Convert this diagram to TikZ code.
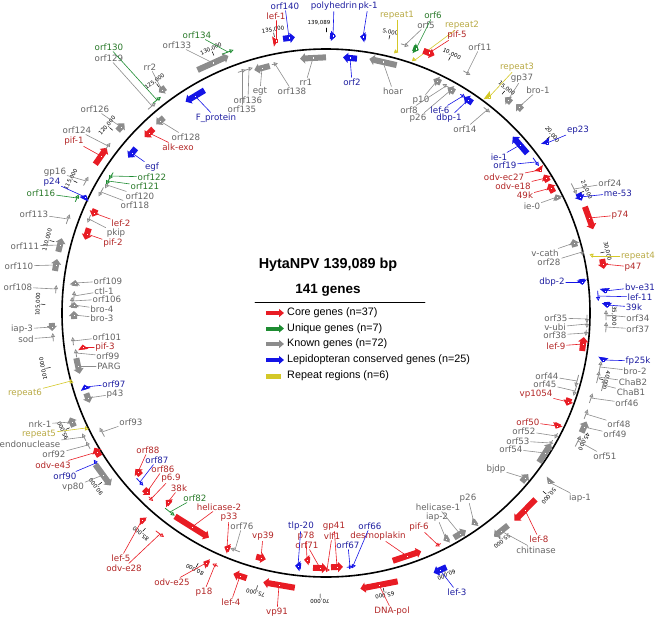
\documentclass[tikz,border=0pt]{standalone}
\usepackage{fontspec}
\setmainfont{DejaVu Sans}
\newfontfamily\legfont{Liberation Sans}
\usetikzlibrary{calc,arrows.meta}
\definecolor{coreC}{RGB}{232,28,36}
\definecolor{coreT}{RGB}{178,38,38}
\definecolor{uniqC}{RGB}{30,140,50}
\definecolor{uniqT}{RGB}{40,120,40}
\definecolor{knownC}{RGB}{140,140,140}
\definecolor{knownT}{RGB}{100,100,100}
\definecolor{lepiC}{RGB}{20,20,230}
\definecolor{lepiT}{RGB}{30,30,160}
\definecolor{repC}{RGB}{212,200,40}
\definecolor{repT}{RGB}{185,170,70}
\tikzset{
  gcw/.style={line width=6pt,line cap=butt,-{Triangle[width=10pt,length=5pt]}},
  gccw/.style={line width=6pt,line cap=butt,{Triangle[width=10pt,length=5pt]}-},
  tcw/.style={line width=0.8pt,-{Triangle[open,width=4pt,length=4pt]}},
  tccw/.style={line width=0.8pt,{Triangle[open,width=4pt,length=4pt]}-},
  gcwm/.style={fill=white,draw,line width=0.4pt,inner sep=0pt,minimum size=2.6pt},
  gccwm/.style={gcwm},
  tcwm/.style={inner sep=0pt},
  tccwm/.style={inner sep=0pt},
  gcore/.style={color=coreC}, gcorel/.style={text=coreT},
  guniq/.style={color=uniqC}, guniql/.style={text=uniqT},
  gknown/.style={color=knownC}, gknownl/.style={text=knownT},
  glepi/.style={color=lepiC}, glepil/.style={text=lepiT},
  grep/.style={color=repC}, grepl/.style={text=repT},
  glab/.style={inner sep=1pt,font=\fontsize{8.7}{10}\selectfont},
  leader/.style={line width=0.6pt},
  ticklab/.style={inner sep=0.5pt,font=\fontsize{5.5}{6}\selectfont},
  legt/.style={font=\legfont\bfseries\fontsize{14.4}{16}\selectfont},
  legl/.style={anchor=west,inner sep=0pt,font=\legfont\fontsize{10.8}{12}\selectfont}
}
\begin{document}
\begin{tikzpicture}[x=1pt,y=-1pt,line join=round,line cap=round,>=stealth]
\useasboundingbox (0,0) rectangle (658,618);
\def\R{264} % genome circle
\coordinate (c) at (326,313);
\draw[line width=1.6pt] (c) circle[radius=\R];
% ticks every 5 kb
\foreach \k in {5,10,...,135}{
  \pgfmathsetmacro\a{\k*2.588271}
  \draw[line width=0.5pt] ($(c)+(\a-90:281)$) -- ($(c)+(\a-90:285)$);
  \node[ticklab,anchor=south,rotate=-\a] at ($(c)+(\a-90:285)$) {\k,000};
}
\draw[line width=0.5pt] ($(c)+(-90:281)$) -- ($(c)+(-90:285)$);
\node[ticklab] at (319,23) {139,089};
% id, class, shape, gene x, y, half length, label x, y, text
\def\gene#1#2#3#4#5#6#7#8#9{
  \coordinate (#1) at (#4,#5);
  \draw[#2,#3] ($(#1)!#6pt!-90:(c)$) -- ($(#1)!#6pt!90:(c)$);
  \node[glab,#2l] (#1l) at (#7,#8) {#9};
  \draw[leader,#2] (#1l) -- (#1);
  \node[#2,#3m] (#1m) at (#1) {};
}
\gene{polh}{glepi}{gcw}{333}{36}{3}{334}{6}{polyhedrin}
\gene{orf140}{glepi}{gcw}{289}{38}{6}{285}{6}{orf140}
\gene{lef1}{gcore}{gcw}{276}{41}{2}{276}{16}{lef-1}
\gene{pk1}{glepi}{gccw}{363}{37}{3}{368}{6}{pk-1}
\gene{orf2}{glepi}{gccw}{350}{58}{7}{352}{82}{orf2}
\gene{hoar}{gknown}{gccw}{383}{62}{14}{393}{91}{hoar}
\gene{rep1}{grep}{tcw}{397}{52}{1.5}{397}{15}{repeat1}
\gene{orf5}{gknown}{tcw}{405}{45}{4}{426}{25}{orf5}
\gene{orf6}{guniq}{gcw}{416}{49}{3}{433}{15}{orf6}
\gene{rep2}{grep}{tcw}{415}{60}{1.5}{462}{25}{repeat2}
\gene{pif5}{gcore}{gcw}{429}{53}{6}{457}{35}{pif-5}
\gene{orf11}{gknown}{tcw}{467}{73}{4}{480}{47}{orf11}
\gene{rep3}{grep}{gcw}{489}{97}{2}{517}{67}{repeat3}
\gene{p10}{gknown}{gccw}{437}{81}{4}{421}{100}{p10}
\gene{orf8}{gknown}{tccw}{446}{86}{4}{409}{110}{orf8}
\gene{p26a}{gknown}{gccw}{451}{90}{4}{418}{118}{p26}
\gene{lef6}{glepi}{tcw}{463}{96}{3}{440}{110}{lef-6}
\gene{dbp1}{glepi}{gccw}{468}{100}{5}{449}{118}{dbp-1}
\gene{orf14}{gknown}{tcw}{487}{110}{4}{465}{129}{orf14}
\gene{gp37}{gknown}{gccw}{508}{100}{4}{522}{78}{gp37}
\gene{bro1}{gknown}{gccw}{519}{107}{4}{538}{90}{bro-1}
\gene{ie1}{glepi}{gccw}{520}{145}{11}{499}{157}{ie-1}
\gene{ep23}{glepi}{gcw}{547}{143}{2}{578}{130}{ep23}
\gene{orf19}{glepi}{tcw}{536}{162}{5}{505}{165}{orf19}
\gene{odvec27}{gcore}{gcw}{540}{170}{2.5}{504}{177}{odv-ec27}
\gene{odve18}{gcore}{gccw}{546}{178}{4}{513}{186}{odv-e18}
\gene{k49}{gcore}{gccw}{551}{188}{5}{525}{195}{49k}
\gene{ie0}{gknown}{gccw}{557}{197}{3}{532}{206}{ie-0}
\gene{orf24}{gknown}{tcw}{574}{189}{6}{610}{183}{orf24}
\gene{me53}{glepi}{gcw}{580}{197}{4}{618}{193}{me-53}
\gene{p74}{gcore}{gcw}{589}{218}{12}{620}{215}{p74}
\gene{vcath}{gknown}{gccw}{574}{243}{4}{545}{253}{v-cath}
\gene{orf28}{gknown}{tcw}{582}{252}{4}{549}{262}{orf28}
\gene{rep4}{grep}{tcw}{592}{256}{2}{638}{256}{repeat4}
\gene{p47}{gcore}{gcw}{603}{264}{5}{633}{267}{p47}
\gene{dbp2}{glepi}{gcw}{582}{282}{3}{552}{282}{dbp-2}
\gene{bve31}{glepi}{gcw}{605}{291}{2.5}{640}{287}{bv-e31}
\gene{lef11}{glepi}{tcw}{598}{296}{5}{640}{297}{lef-11}
\gene{k39}{glepi}{gcw}{607}{305}{3}{634}{307}{39k}
\gene{orf34}{gknown}{tccw}{606}{315}{5}{638}{318}{orf34}
\gene{orf37}{gknown}{tccw}{606}{327}{5}{638}{329}{orf37}
\gene{orf35}{gknown}{tcw}{587}{319}{4}{556}{318}{orf35}
\gene{vubi}{gknown}{tcw}{587}{324}{4}{555}{327}{v-ubi}
\gene{orf38}{gknown}{tcw}{586}{333}{3}{555}{335}{orf38}
\gene{lef9}{gcore}{gccw}{583}{344}{7}{556}{346}{lef-9}
\gene{fp25k}{glepi}{gcw}{603}{360}{2.5}{638}{361}{fp25k}
\gene{bro2}{gknown}{tccw}{600}{367}{6}{635}{371}{bro-2}
\gene{chab2}{gknown}{tccw}{598}{377}{6}{633}{382}{ChaB2}
\gene{chab1}{gknown}{tccw}{603}{385}{6}{631}{392}{ChaB1}
\gene{orf46}{gknown}{tccw}{591}{398}{5}{627}{403}{orf46}
\gene{orf44}{gknown}{tcw}{577}{381}{6}{547}{376}{orf44}
\gene{orf45}{gknown}{tcw}{575}{391}{5}{545}{384}{orf45}
\gene{vp1054}{gcore}{gcw}{568}{402}{4}{536}{394}{vp1054}
\gene{orf48}{gknown}{tccw}{586}{414}{5}{619}{424}{orf48}
\gene{orf49}{gknown}{gccw}{584}{427}{6}{615}{434}{orf49}
\gene{orf51}{gknown}{tccw}{578}{441}{6}{605}{456}{orf51}
\gene{orf50}{gcore}{gcw}{557}{426}{3}{528}{422}{orf50}
\gene{orf52}{gknown}{tcw}{556}{436}{3}{524}{431}{orf52}
\gene{orf53}{gknown}{tcw}{551}{443}{3}{518}{441}{orf53}
\gene{orf54}{gknown}{gccw}{545}{453}{11}{511}{449}{orf54}
\gene{bjdp}{gknown}{gccw}{525}{478}{5}{496}{469}{bjdp}
\gene{iap1}{gknown}{gcw}{549}{482}{2}{580}{498}{iap-1}
\gene{lef8}{gcore}{gcw}{525}{510}{15}{539}{539}{lef-8}
\gene{chit}{gknown}{gcw}{501}{531}{9}{536}{550}{chitinase}
\gene{p26b}{gknown}{gcw}{474}{523}{3}{468}{498}{p26}
\gene{hel1}{gknown}{gccw}{460}{534}{7}{438}{507}{helicase-1}
\gene{iap2}{gknown}{gcw}{446}{539}{3}{437}{517}{iap-2}
\gene{pif6}{gcore}{tcw}{438}{545}{3}{419}{527}{pif-6}
\gene{desmo}{gcore}{gccw}{407}{556}{15}{378}{536}{desmoplakin}
\gene{orf66}{glepi}{tccw}{353}{566}{3}{370}{526}{orf66}
\gene{orf67}{glepi}{tccw}{350}{567}{3}{348}{545}{orf67}
\gene{lef3}{glepi}{gcw}{440}{570}{7}{457}{592}{lef-3}
\gene{dnapol}{gcore}{gcw}{379}{585}{19}{392}{611}{DNA-pol}
\gene{gp41}{gcore}{gccw}{337}{567}{6}{334}{526}{gp41}
\gene{vlf1}{gcore}{tccw}{327}{570}{3}{332}{536}{vlf1}
\gene{orf71}{gcore}{gccw}{320}{568}{7}{307}{545}{orf71}
\gene{p78}{gcore}{gcw}{307}{560}{3}{306}{536}{p78}
\gene{tlp20}{glepi}{gcw}{298}{566}{3}{301}{526}{tlp-20}
\gene{vp39}{gcore}{gccw}{261}{558}{5}{263}{536}{vp39}
\gene{vp91}{gcore}{gcw}{279}{585}{16}{277}{612}{vp91}
\gene{lef4}{gcore}{gcw}{240}{576}{7}{231}{602}{lef-4}
\gene{orf76}{gknown}{tcw}{235}{550}{5}{242}{526}{orf76}
\gene{p33}{gcore}{gcw}{227}{548}{3}{229}{517}{p33}
\gene{odve25}{gcore}{gcw}{206}{563}{3}{172}{582}{odv-e25}
\gene{p18}{gcore}{tcw}{215}{565}{3}{204}{592}{p18}
\gene{hel2}{gcore}{gccw}{192}{527}{20}{219}{507}{helicase-2}
\gene{orf82}{guniq}{tccw}{170}{512}{6}{195}{498}{orf82}
\gene{k38}{gcore}{gcw}{168}{502}{3}{179}{488}{38k}
\gene{p69}{gcore}{tccw}{151}{499}{3}{171}{478}{p6.9}
\gene{orf86}{gcore}{gccw}{147}{492}{4}{163}{469}{orf86}
\gene{orf87}{glepi}{tccw}{140}{482}{5}{157}{460}{orf87}
\gene{orf88}{gcore}{gcw}{138}{472}{4}{148}{450}{orf88}
\gene{lef5}{gcore}{gcw}{142}{520}{3}{121}{558}{lef-5}
\gene{odve28}{gcore}{tccw}{160}{534}{5}{124}{568}{odv-e28}
\gene{orf93}{gknown}{tcw}{102}{432}{5}{131}{422}{orf93}
\gene{odve43}{gcore}{gcw}{97}{452}{5}{53}{465}{odv-e43}
\gene{orf90}{glepi}{tcw}{96}{463}{4}{65}{476}{orf90}
\gene{vp80}{gknown}{gccw}{103}{475}{13}{73}{487}{vp80}
\gene{orf92}{gknown}{tcw}{88}{445}{4}{54}{454}{orf92}
\gene{endo}{gknown}{tcw}{84}{437}{4}{30}{444}{endonuclease}
\gene{rep5}{grep}{tcw}{86}{428}{2}{39}{434}{repeat5}
\gene{nrk1}{gknown}{gcw}{72}{422}{5}{40}{424}{nrk-1}
\gene{p43}{gknown}{gccw}{88}{398}{5}{115}{394}{p43}
\gene{orf97}{glepi}{gcw}{85}{387}{2.5}{114}{384}{orf97}
\gene{rep6}{grep}{tcw}{71}{381}{2}{25}{393}{repeat6}
\gene{parg}{gknown}{gccw}{78}{366}{8}{109}{366}{PARG}
\gene{orf99}{gknown}{tcw}{76}{353}{4}{108}{356}{orf99}
\gene{pif3}{gcore}{gcw}{83}{347}{2.5}{105}{347}{pif-3}
\gene{orf101}{gknown}{tcw}{73}{341}{4}{107}{337}{orf101}
\gene{sod}{gknown}{tcw}{53}{337}{4}{26}{339}{sod}
\gene{iap3}{gknown}{gccw}{52}{327}{4}{22}{329}{iap-3}
\gene{bro3}{gknown}{gcw}{74}{315}{4}{102}{318}{bro-3}
\gene{bro4}{gknown}{gcw}{74}{305}{3}{102}{309}{bro-4}
\gene{orf106}{gknown}{tcw}{72}{301}{4}{107}{299}{orf106}
\gene{ctl1}{gknown}{tcw}{74}{296}{5}{104}{291}{ctl-1}
\gene{orf108}{gknown}{tcw}{56}{289}{4}{18}{287}{orf108}
\gene{orf109}{gknown}{gcw}{75}{283}{3}{108}{281}{orf109}
\gene{orf110}{gknown}{gcw}{56}{265}{6}{19}{266}{orf110}
\gene{orf111}{gknown}{gcw}{60}{245}{7}{25}{246}{orf111}
\gene{pif2}{gcore}{gccw}{87}{234}{6}{113}{243}{pif-2}
\gene{pkip}{gknown}{tccw}{89}{219}{4}{116}{233}{pkip}
\gene{lef2}{gcore}{gccw}{94}{213}{4}{121}{223}{lef-2}
\gene{orf113}{gknown}{tcw}{68}{219}{5}{34}{214}{orf113}
\gene{orf116}{guniq}{tcw}{77}{198}{4}{41}{193}{orf116}
\gene{p24}{glepi}{gcw}{85}{197}{2.5}{52}{182}{p24}
\gene{gp16}{gknown}{tcw}{86}{181}{5}{55}{172}{gp16}
\gene{orf118}{gknown}{tccw}{101}{192}{5}{135}{205}{orf118}
\gene{orf120}{gknown}{tccw}{107}{185}{4}{140}{196}{orf120}
\gene{orf121}{guniq}{tccw}{108}{181}{4}{145}{186}{orf121}
\gene{orf122}{guniq}{tccw}{111}{176}{4}{152}{177}{orf122}
\gene{egf}{glepi}{gccw}{132}{153}{6}{152}{167}{egf}
\gene{pif1}{gcore}{gcw}{101}{156}{10}{74}{141}{pif-1}
\gene{orf124}{gknown}{tcw}{108}{146}{4}{77}{130}{orf124}
\gene{orf126}{gknown}{gcw}{121}{127}{5}{95}{109}{orf126}
\gene{alkexo}{gcore}{gccw}{149}{133}{6}{178}{147}{alk-exo}
\gene{orf128}{gknown}{gccw}{160}{121}{5}{186}{137}{orf128}
\gene{orf129}{gknown}{tcw}{152}{106}{5}{109}{58}{orf129}
\gene{orf130}{guniq}{tcw}{157}{100}{5}{109}{47}{orf130}
\gene{rr2}{gknown}{gccw}{162}{90}{4}{150}{67}{rr2}
\gene{fprot}{glepi}{gccw}{195}{96}{11}{216}{118}{F\_protein}
\gene{orf133}{gknown}{gcw}{213}{63}{17}{177}{45}{orf133}
\gene{orf134}{guniq}{tcw}{228}{52}{6}{197}{35}{orf134}
\gene{orf135}{gknown}{tcw}{242}{71}{4}{242}{109}{orf135}
\gene{orf136}{gknown}{tcw}{249}{69}{4}{248}{100}{orf136}
\gene{egt}{gknown}{gccw}{262}{68}{8}{260}{91}{egt}
\gene{orf138}{gknown}{tcw}{275}{64}{3}{292}{91}{orf138}
\gene{rr1}{gknown}{gccw}{313}{58}{13}{306}{82}{rr1}
% centre legend
\node[legt] (title) at (328,265) {HytaNPV 139,089 bp};
\node[legt,font=\legfont\bfseries\fontsize{13.5}{15}\selectfont] (ngenes) at (328,290) {141 genes};
\draw[line width=0.6pt] (255,302) -- (425,302);
\foreach \y/\cc/\t in {313/coreC/Core genes (n=37),328.5/uniqC/Unique genes (n=7),344/knownC/Known genes (n=72),360/lepiC/Lepidopteran conserved genes (n=25)}{
  \draw[line width=4pt,line cap=butt,-{Triangle[width=8pt,length=5pt]},\cc] (266,\y) -- (284,\y);
  \node[legl] at (287,\y) {\t};
}
\fill[repC] (266,374) rectangle (281,378.5);
\node[legl] (leg5) at (287,376) {Repeat regions (n=6)};
\end{tikzpicture}
\end{document}
